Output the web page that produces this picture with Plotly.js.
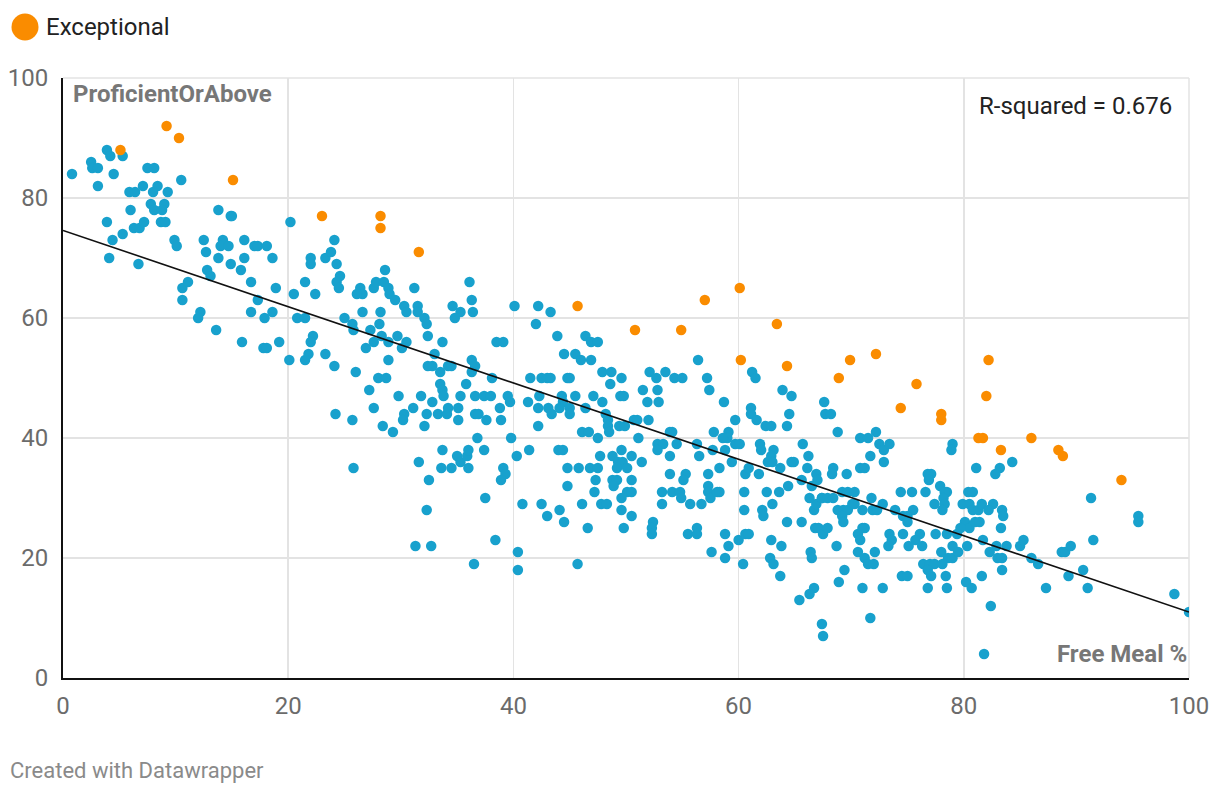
<!DOCTYPE html>
<html>
<head>
<meta charset="utf-8">
<script src="https://cdn.plot.ly/plotly-3.0.1.min.js"></script>
<style>
html,body{margin:0;padding:0;background:#fff;}
#chart{width:1220px;height:796px;}
</style>
</head>
<body>
<div id="chart"></div>
<script>
// Free Meal % (x) vs ProficientOrAbove (y)
const regularX = [0.8,2.5,2.6,3.1,3.1,3.9,4.2,4.5,5.3,3.9,4.4,4.1,5.3,6.0,5.9,6.4,7.1,7.5,8.1,8.4,8.0,7.8,9.0,8.1,8.8,6.3,6.8,7.2,8.7,9.1,9.3,10.5,6.7,9.9,10.1,10.6,11.1,10.6,12.5,12.7,12.8,13.1,12.2,12.0,13.8,13.8,13.6,14.2,14.0,14.7,14.9,15.0,14.9,15.8,16.1,16.1,16.7,15.9,17.0,
20.2,17.3,18.1,18.6,18.9,17.3,16.7,17.9,18.6,17.8,18.1,19.2,20.1,20.5,21.5,22.4,20.8,21.5,22.0,22.0,23.3,23.8,24.1,24.3,24.6,24.3,24.5,22.2,22.0,21.8,21.5,23.3,24.1,25.0,25.7,25.8,26.0,26.4,26.6,26.1,26.6,27.3,26.9,27.6,27.8,28.6,28.5,28.9,29.0,29.5,28.2,28.1,28.3,27.6,28.9,28.9,28.0,28.7,27.2,27.6,29.8,29.7,30.1,30.5,30.3,30.5,31.2,31.5,31.5,32.1,32.3,32.4,32.4,32.8,33.0,33.7,33.5,32.8,31.8,31.1,32.3,33.3,30.3,24.2,25.7,33.5,33.7,
28.4,29.3,30.2,32.1,33.7,31.6,33.6,25.8,32.5,32.3,31.3,32.7,
36.1,36.3,36.4,34.6,35.3,34.8,40.1,42.2,43.3,42.0,43.9,46.4,46.9,47.5,38.5,39.1,44.5,45.5,46.0,46.9,36.3,36.6,34.2,34.5,36.3,38.1,35.8,33.8,35.3,36.6,37.4,38.0,34.2,34.1,35.1,35.1,36.6,36.9,37.6,36.8,38.8,38.9,39.5,39.7,39.8,41.5,42.5,43.0,43.3,44.8,45.0,47.9,48.7,48.6,49.6,41.3,42.3,42.2,43.1,43.4,44.3,44.4,45.5,44.1,45.0,45.0,42.2,46.1,46.7,47.5,46.4,47.1,47.9,48.2,48.4,48.4,48.5,49.5,49.8,49.4,49.9,50.7,
35.0,35.3,35.9,36.0,34.5,36.0,37.4,39.1,39.3,38.9,37.5,40.3,41.4,44.0,44.4,40.8,42.5,43.0,44.1,44.5,44.8,44.8,45.8,46.8,47.5,47.7,47.3,47.2,46.1,47.8,48.3,46.6,48.8,49.3,49.7,49.6,48.8,49.2,48.9,49.2,50.1,50.5,50.5,50.1,50.5,49.6,49.6,50.5,49.8,38.4,40.4,40.4,36.5,45.7,
56.4,52.1,52.7,53.5,54.3,55.0,57.2,57.4,51.5,52.8,51.9,52.9,58.7,61.2,61.5,63.9,64.7,61.1,61.1,61.6,62.4,62.9,64.3,64.5,67.6,67.7,51.0,52.0,51.1,53.9,54.1,59.7,57.8,59.1,59.0,58.6,59.7,60.1,52.8,53.3,52.8,54.5,56.3,58.8,57.7,61.9,62.0,63.1,62.9,62.6,63.0,65.7,66.2,64.7,64.9,63.7,66.1,66.9,67.0,51.4,53.9,56.5,58.3,59.4,53.9,55.3,55.1,57.3,60.6,60.9,61.8,64.4,65.6,57.3,
53.2,54.1,54.8,54.9,53.2,55.7,56.7,57.3,57.5,58.1,58.3,52.4,52.3,52.3,55.5,56.3,56.3,57.6,58.8,59.1,58.8,60.0,60.6,60.9,60.4,60.5,60.5,62.1,62.2,62.5,63.0,63.6,62.9,63.8,62.8,63.1,63.7,64.3,65.6,66.4,66.5,66.8,67.1,66.7,66.9,66.3,66.5,67.4,67.5,66.7,66.3,65.4,67.4,67.5,
68.2,68.8,70.8,71.5,72.2,72.5,72.9,73.4,71.7,72.9,68.4,68.3,69.6,70.8,71.2,76.8,77.1,76.9,77.9,79.0,78.9,81.1,83.2,82.8,84.3,74.4,75.4,76.6,78.5,80.4,80.8,
67.9,67.4,67.9,68.4,69.2,69.7,70.3,68.8,69.3,69.7,69.2,69.3,70.1,70.3,71.0,71.8,71.9,72.3,72.8,71.0,71.2,70.6,70.8,68.7,70.6,71.2,71.5,72.0,72.1,69.4,68.9,71.0,72.8,71.7,78.3,78.2,78.3,78.1,77.4,73.9,74.6,75.0,75.5,75.0,73.4,73.6,73.3,74.6,76.1,75.7,75.1,76.3,77.5,78.5,78.0,78.6,79.0,79.0,79.5,76.4,77.0,77.4,78.1,76.8,77.1,74.5,75.0,76.8,78.4,78.5,79.9,80.5,80.8,81.3,81.6,82.6,82.2,83.4,83.5,80.1,80.5,79.7,79.4,81.0,81.4,83.3,81.7,80.3,82.3,82.9,83.8,83.0,83.4,83.4,81.6,80.2,80.7,82.4,81.8,
91.3,85.0,85.3,86.0,86.6,87.3,88.7,89.0,89.5,89.3,90.6,91.0,91.5,95.5,95.5,98.7,100.0];
const regularY = [84,86,85,85,82,88,87,84,87,76,73,70,74,78,81,81,82,85,85,82,81,79,79,78,78,75,75,76,76,76,81,83,69,73,72,65,66,63,73,71,68,67,61,60,78,70,58,73,72,72,77,77,69,68,70,73,66,56,72,
76,72,72,70,65,63,61,60,61,55,55,56,53,64,66,64,60,60,70,69,70,71,73,69,67,66,65,57,56,54,53,54,52,60,59,58,51,65,64,64,61,58,55,65,66,68,66,65,64,63,61,59,57,56,56,53,50,50,48,45,47,57,55,56,62,61,65,62,61,60,59,57,52,52,54,56,51,46,47,45,44,44,44,44,43,49,48,
42,41,43,42,38,36,35,35,33,28,22,22,
66,63,61,62,61,60,62,62,61,59,57,57,56,56,56,56,54,54,53,53,53,52,52,52,51,50,49,47,47,47,47,47,45,44,45,43,44,44,43,40,45,43,47,46,40,50,50,50,50,50,50,51,51,49,50,46,47,45,45,44,47,46,47,45,45,44,42,41,41,40,45,47,46,44,43,42,41,47,47,42,42,43,
37,36,37,38,35,35,38,35,34,33,30,37,38,38,38,29,29,27,28,26,35,32,35,35,35,37,33,31,29,29,29,25,37,36,36,38,33,33,32,35,35,37,33,31,31,30,28,27,25,23,21,18,19,19,
53,51,50,51,50,50,50,48,48,48,46,46,46,51,50,48,47,45,44,43,42,42,42,44,46,44,43,43,40,41,41,43,41,41,40,40,39,39,39,39,38,39,39,38,38,39,38,38,37,36,36,39,37,36,36,35,35,34,33,36,37,37,35,36,34,34,33,34,34,35,34,32,33,32,
31,31,31,30,29,29,29,31,30,31,31,26,25,24,24,25,24,21,24,22,20,23,24,24,19,31,28,28,27,31,29,31,23,22,20,19,17,26,26,21,20,25,25,28,29,30,32,30,24,15,14,13,9,7,
44,41,40,40,41,39,38,39,37,36,35,34,34,35,35,34,34,33,32,39,38,35,35,34,36,31,31,31,31,31,31,
25,30,30,30,31,31,31,28,28,28,27,26,29,29,28,30,28,28,29,25,25,24,23,22,21,20,19,19,21,18,16,15,15,10,31,30,29,28,29,28,27,27,28,26,24,23,22,24,24,23,22,22,24,24,21,20,20,22,21,19,19,19,19,18,17,17,17,15,17,15,29,29,28,28,29,29,28,28,27,26,25,25,24,26,26,25,23,22,21,22,22,20,20,18,17,16,15,12,4,
30,22,23,20,19,15,21,21,22,17,18,15,23,27,26,14,11];
const exceptionalX = [5.1,9.2,10.3,15.1,23.0,28.2,28.2,31.6,45.7,50.8,54.9,57.0,60.1,60.2,63.4,64.3,68.9,69.9,72.2,75.8,74.4,78.0,78.0,82.2,82.0,81.3,81.7,83.3,86.0,88.4,88.8,94.0];
const exceptionalY = [88,92,90,83,77,77,75,71,62,58,58,63,65,53,59,52,50,53,54,49,45,44,43,53,47,40,40,38,40,38,37,33];
const fitX = [0, 100];
const fitY = [74.6, 11.0];
const xTicks = [0, 20, 40, 60, 80, 100];
const yTicks = [0, 20, 40, 60, 80, 100];
const rSquared = "0.676";

const BLUE = '#18a1cd';
const ORANGE = '#fa8c00';
const FONT = 'Roboto, "Noto Sans", sans-serif';

const traces = [
  {type:'scatter', mode:'markers', x: regularX, y: regularY, name:'Regular',
   marker:{color: BLUE, size: 10.5, line:{width:0}}, showlegend:false, hoverinfo:'x+y'},
  {type:'scatter', mode:'markers', x: exceptionalX, y: exceptionalY, name:'Exceptional',
   marker:{color: ORANGE, size: 10.5, line:{width:0}}, showlegend:false, hoverinfo:'x+y'},
  {type:'scatter', mode:'lines', x: fitX, y: fitY, line:{color:'#111', width:1.6},
   showlegend:false, hoverinfo:'skip'}
];

const layout = {
  width: 1220, height: 796,
  margin: {l:63, r:31, t:78, b:118, pad:0},
  paper_bgcolor:'#fff', plot_bgcolor:'#fff',
  font: {family: FONT, size: 20, color:'#666'},
  showlegend: false,
  xaxis: {range:[0,100], tickvals: xTicks, ticktext: xTicks.map(String),
          showgrid:true, gridcolor:'#e3e3e3', gridwidth:1.5, zeroline:false,
          showline:true, linecolor:'#111', linewidth:2,
          ticks:'outside', ticklen:5, tickcolor:'rgba(0,0,0,0)',
          tickfont:{family:FONT, size:24, color:'#6b6b6b'}, fixedrange:true},
  yaxis: {range:[0,100], tickvals: yTicks, ticktext: yTicks.map(String),
          showgrid:true, gridcolor:'#e3e3e3', gridwidth:1.5, zeroline:false,
          showline:true, linecolor:'#111', linewidth:2,
          ticks:'outside', ticklen:8, tickcolor:'rgba(0,0,0,0)',
          tickfont:{family:FONT, size:24, color:'#6b6b6b'}, fixedrange:true},
  shapes: [
    {type:'line', xref:'paper', yref:'paper', x0:1, x1:1, y0:0, y1:1, line:{color:'#e3e3e3', width:1.5}, layer:'below'},
    {type:'line', xref:'paper', yref:'paper', x0:0, x1:1, y0:1, y1:1, line:{color:'#e3e3e3', width:1.5}, layer:'below'},
    {type:'circle', xref:'paper', yref:'paper', xsizemode:'pixel', ysizemode:'pixel',
     xanchor: -38/1126, yanchor: 1 + 51/600, x0:-13.5, x1:13.5, y0:-13.5, y1:13.5,
     fillcolor: ORANGE, line:{width:0}}
  ],
  annotations: [
    {xref:'paper', yref:'paper', x:-19/1126, y:1 + 51/600, xanchor:'left', yanchor:'middle',
     text:'Exceptional', showarrow:false, font:{family:FONT, size:24, color:'#222'}},
    {xref:'paper', yref:'paper', x:0, y:1, xanchor:'left', yanchor:'top', xshift:8, yshift:0,
     text:'<b>ProficientOrAbove</b>', showarrow:false, font:{family:FONT, size:24, color:'#777'}},
    {xref:'paper', yref:'paper', x:1, y:0, xanchor:'right', yanchor:'bottom', xshift:0, yshift:8,
     text:'<b>Free Meal %</b>', showarrow:false, font:{family:FONT, size:24, color:'#777'}},
    {xref:'paper', yref:'paper', x:1, y:1, xanchor:'right', yanchor:'top', xshift:-15, yshift:-12,
     text:'R-squared = ' + rSquared, showarrow:false, font:{family:FONT, size:24, color:'#222'},
     bgcolor:'rgba(255,255,255,0.9)'},
    {xref:'paper', yref:'paper', x:-55/1126, y:-92/600, xanchor:'left', yanchor:'middle',
     text:'Created with Datawrapper', showarrow:false, font:{family:FONT, size:22, color:'#8a8a8a'}}
  ]
};

Plotly.newPlot('chart', traces, layout, {displayModeBar:false, staticPlot:true});
</script>
</body>
</html>
